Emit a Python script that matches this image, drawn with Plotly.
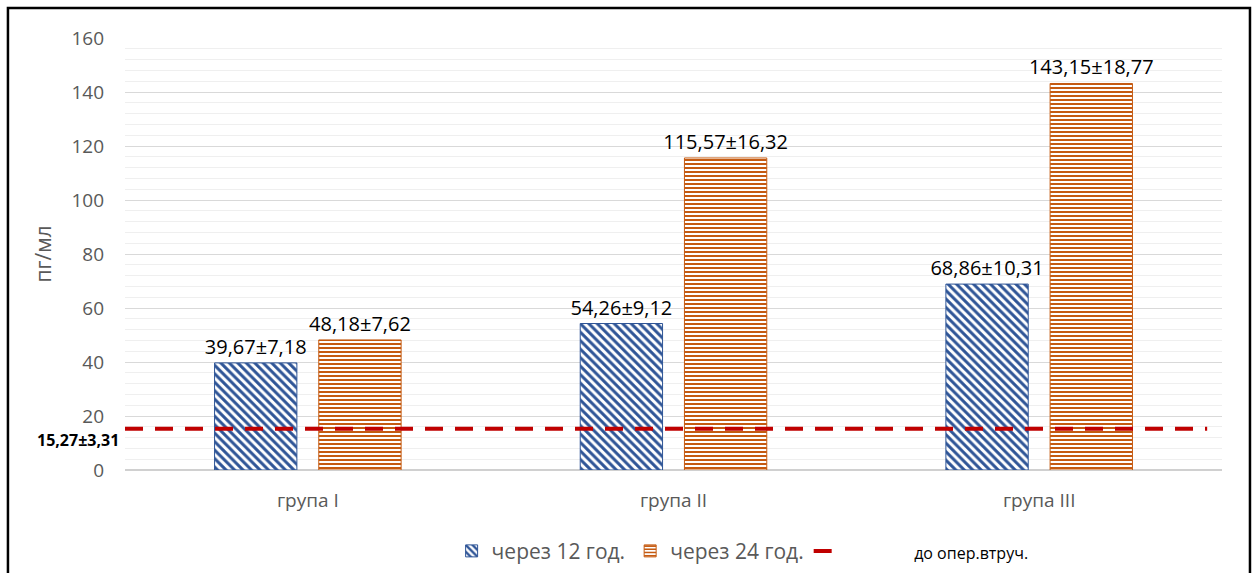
import plotly.graph_objects as go

# Groups and measured concentrations (pg/ml)
groups = ["група I", "група II", "група III"]
after_12h = [39.67, 54.26, 68.86]
after_12h_sd = [7.18, 9.12, 10.31]
after_24h = [48.18, 115.57, 143.15]
after_24h_sd = [7.62, 16.32, 18.77]
baseline = 15.27
baseline_sd = 3.31

series_names = ["через 12 год.", "через 24 год."]
baseline_name = "до опер.втруч."
y_title = "пг/мл"
y_ticks = [0, 20, 40, 60, 80, 100, 120, 140, 160]

BLUE = "#2F5597"
ORANGE = "#C55A11"
RED = "#C00000"
GRAY = "#595959"
FONT = "Open Sans"


def fmt(v):
    return f"{v:.2f}".replace(".", ",")


labels_12 = [f"{fmt(m)}±{fmt(s)}" for m, s in zip(after_12h, after_12h_sd)]
labels_24 = [f"{fmt(m)}±{fmt(s)}" for m, s in zip(after_24h, after_24h_sd)]

fig = go.Figure()

fig.add_trace(go.Bar(
    x=groups, y=after_12h, name=series_names[0],
    text=labels_12, textposition="outside", constraintext="none",
    textfont=dict(family=FONT, size=20, color="#000000"),
    marker=dict(
        color="white",
        line=dict(color=BLUE, width=1),
        pattern=dict(shape="\\", fgcolor=BLUE, bgcolor="white",
                     size=6, solidity=0.5, fillmode="replace"),
    ),
    cliponaxis=False,
))

fig.add_trace(go.Bar(
    x=groups, y=after_24h, name=series_names[1],
    text=labels_24, textposition="outside", constraintext="none",
    textfont=dict(family=FONT, size=20, color="#000000"),
    marker=dict(
        color="white",
        line=dict(color=ORANGE, width=1),
        pattern=dict(shape="-", fgcolor=ORANGE, bgcolor="white",
                     size=4, solidity=0.5, fillmode="replace"),
    ),
    cliponaxis=False,
))

# Pre-operative reference level drawn across the plot on an auxiliary axis
fig.add_trace(go.Scatter(
    x=[0, 1], y=[baseline, baseline],
    xaxis="x2", mode="lines",
    name="\u00a0" * 12 + f"<span style='font-size:16px;color:#000000'>{baseline_name}</span>",
    line=dict(color=RED, width=4, dash="18px,12px"),
))

fig.add_annotation(
    x=0, xref="paper", y=baseline, yref="y",
    xanchor="right", yanchor="middle", xshift=-4, yshift=-11,
    text=f"<b>{fmt(baseline)}±{fmt(baseline_sd)}</b>",
    showarrow=False,
    font=dict(family=FONT, size=16, color="#000000"),
)

# Chart frame
fig.add_shape(
    type="rect", xref="paper", yref="paper",
    x0=-0.1067, x1=1.0255, y0=-0.30, y1=1.0694,
    line=dict(color="#000000", width=2.5), fillcolor="rgba(0,0,0,0)",
    layer="above",
)

fig.update_layout(
    width=1254, height=573,
    margin=dict(l=125, r=32, t=38, b=103, autoexpand=False),
    paper_bgcolor="white", plot_bgcolor="white",
    font=dict(family=FONT, color=GRAY),
    barmode="group", bargap=0.43, bargroupgap=0.21,
    showlegend=True,
    legend=dict(
        orientation="h", x=0.563, xanchor="center",
        yref="container", y=0.038, yanchor="middle",
        font=dict(family=FONT, size=21, color=GRAY),
        traceorder="normal",
    ),
    xaxis=dict(
        type="category", showgrid=False, showline=False, zeroline=False,
        tickfont=dict(family=FONT, size=19, color=GRAY),
        ticklabelstandoff=17,
    ),
    xaxis2=dict(
        overlaying="x", range=[0, 1.0137], visible=False,
    ),
    yaxis=dict(
        range=[0, 160], tickvals=y_ticks,
        showgrid=True, gridcolor="#D9D9D9", gridwidth=1,
        zeroline=True, zerolinecolor="#D0D0D0", zerolinewidth=1.5,
        showline=False,
        minor=dict(dtick=4, showgrid=True, gridcolor="#EFEFEF", gridwidth=1),
        tickfont=dict(family=FONT, size=19, color=GRAY),
        ticklabelstandoff=20,
        title=dict(text=y_title, font=dict(family=FONT, size=21, color=GRAY),
                   standoff=14),
    ),
)

fig.write_html("out.html")
